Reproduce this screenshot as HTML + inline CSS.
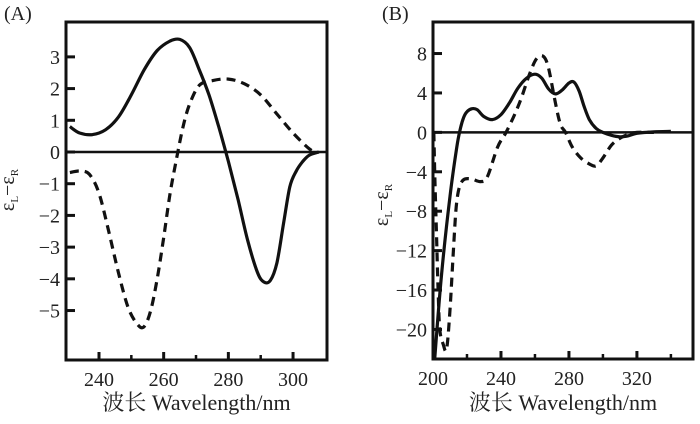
<!DOCTYPE html>
<html><head><meta charset="utf-8"><style>
body{margin:0;background:#fff}
svg text{font-family:"Liberation Serif","Noto Serif CJK SC",serif;fill:#222}
</style></head><body>
<svg id="c" width="700" height="419" xmlns="http://www.w3.org/2000/svg"></svg>
<script>
const aTicksX=[240,260,280,300];
const aMinorX=[250,270,290];
const aTicksY=[3,2,1,0,-1,-2,-3,-4,-5];
const aSolidX=[231,234,238,242,246,250,254,258,262,265,268,271,274,277,280,283,286,289,291,293,295,297,299,301,303,305,308];
const aSolidY=[0.8,0.6,0.55,0.7,1.1,1.8,2.6,3.2,3.5,3.55,3.3,2.6,1.8,0.8,-0.3,-1.5,-2.8,-3.8,-4.1,-4.05,-3.5,-2.3,-1.1,-0.6,-0.3,-0.1,0];
const aDashX=[231,234,237,240,243,246,249,252,254,256,258,260,262,264,266,268,271,275,280,285,290,295,300,305,307];
const aDashY=[-0.65,-0.6,-0.7,-1.3,-2.5,-3.8,-4.9,-5.45,-5.5,-5,-4,-2.7,-1.3,-0.2,0.8,1.5,2.1,2.25,2.3,2.15,1.8,1.2,0.6,0.1,0];
const bTicksX=[200,240,280,320];
const bMinorX=[220,260,300,340];
const bTicksY=[8,4,0,-4,-8,-12,-16,-20];
const bSolidX=[201,205,210,214,216,218,220,223,226,230,235,240,245,250,255,260,264,268,272,276,280,283,286,289,292,296,300,305,310,315,320,330,340];
const bSolidY=[-23,-14.5,-6.5,-1.5,0.3,1.5,2.1,2.4,2.3,1.6,1.3,1.8,3,4.5,5.5,5.9,5.5,4.4,3.9,4.3,5,5.1,4.2,2.6,1.3,0.4,0,-0.3,-0.45,-0.35,-0.1,0.05,0.1];
const bDashX=[200.5,201,202,203,204,206,208,210,212,214,217,222,228,232,238,243,248,252,257,261,265,268,272,275,278,282,287,292,296,300,305,310,315,320,330];
const bDashY=[0,-4,-10,-16,-20,-21.5,-22,-18,-12,-7,-5,-4.7,-5,-4.5,-1.5,0,1.8,3.5,6,7.5,7.7,6.5,3,0.8,0,-1.5,-2.6,-3.2,-3.4,-2.6,-1.3,-0.6,-0.2,0,0];

const svg=document.getElementById('c');
const NS='http://www.w3.org/2000/svg';
function mk(tag,attrs,txt){const e=document.createElementNS(NS,tag);for(const k in attrs)e.setAttribute(k,attrs[k]);if(txt!==undefined)e.textContent=txt;svg.appendChild(e);return e;}

function smooth(P){
  let d='M'+P[0][0].toFixed(1)+','+P[0][1].toFixed(1);
  for(let i=0;i<P.length-1;i++){
    const p0=P[Math.max(0,i-1)],p1=P[i],p2=P[i+1],p3=P[Math.min(P.length-1,i+2)];
    const c1=[p1[0]+(p2[0]-p0[0])/6,p1[1]+(p2[1]-p0[1])/6];
    const c2=[p2[0]-(p3[0]-p1[0])/6,p2[1]-(p3[1]-p1[1])/6];
    d+=' C'+c1.map(v=>v.toFixed(1)).join(',')+' '+c2.map(v=>v.toFixed(1)).join(',')+' '+p2.map(v=>v.toFixed(1)).join(',');
  }
  return d;
}

function panel(p){
  const sx=v=>p.x0+(v-p.xmin)/(p.xmax-p.xmin)*(p.x1-p.x0);
  const sy=v=>p.y0+(p.ymax-v)/(p.ymax-p.ymin)*(p.y1-p.y0);
  let e=mk('rect',{x:p.x0,y:p.y0,width:p.x1-p.x0,height:p.y1-p.y0,fill:'none',stroke:'#111','stroke-width':3});
  
  
  e=mk('line',{x1:p.x0,x2:p.x1,y1:sy(0),y2:sy(0),stroke:'#111','stroke-width':2.5});
  
  
  p.tx.forEach(v=>{
    e=mk('line',{x1:sx(v),x2:sx(v),y1:p.y1,y2:p.y1-8,stroke:'#111','stroke-width':3});
    
    
    e=mk('text',{x:sx(v),y:p.y1+26,'text-anchor':'middle','font-size':20},v);
    
    
  });
  p.mx.forEach(v=>{
    e=mk('line',{x1:sx(v),x2:sx(v),y1:p.y1,y2:p.y1-5,stroke:'#111','stroke-width':2.5});
    
    
  });
  p.ty.forEach(v=>{
    e=mk('line',{x1:p.x0,x2:p.x0+9,y1:sy(v),y2:sy(v),stroke:'#111','stroke-width':3});
    
    
    e=mk('text',{x:p.x0-6,y:sy(v)+7,'text-anchor':'end','font-size':20},(v<0?'\u2212'+(-v):v));
    
    
  });
  function line(xs,ys,dash,name){
    const P=xs.map((x,i)=>[sx(x),sy(ys[i])]);
    const a={d:smooth(P),fill:'none',stroke:'#111','stroke-width':3.2,'stroke-linejoin':'round'};
    if(dash)a['stroke-dasharray']='9,6';
    const l=mk('path',a);
    
    
  }
  line(p.sX,p.sY,false,p.id+'-solid-series');
  line(p.dX,p.dY,true,p.id+'-dashed-series');
  e=mk('text',{x:p.lx,y:20,'font-size':20},p.label);
  
  
  e=mk('text',{x:(p.x0+p.x1)/2,y:410,'text-anchor':'middle','font-size':22},'波长 Wavelength/nm');
  
  
  e=mk('text',{x:0,y:0,'text-anchor':'middle','font-size':20,transform:'translate('+p.yx+','+p.yy+') rotate(-90)'});
  
  
  e.innerHTML='ε<tspan font-size="11" dy="4">L</tspan><tspan dy="-4">−ε</tspan><tspan font-size="11" dy="4">R</tspan>';
}
panel({id:'panel-a',x0:66,x1:327,y0:22,y1:360,xmin:229.8,xmax:310.5,ymin:-6.56,ymax:4.1,tx:aTicksX,mx:aMinorX,ty:aTicksY,sX:aSolidX,sY:aSolidY,dX:aDashX,dY:aDashY,label:'(A)',lx:4,yx:14,yy:190});
panel({id:'panel-b',x0:433,x1:693,y0:22,y1:359,xmin:200,xmax:353,ymin:-23,ymax:11.2,tx:bTicksX,mx:bMinorX,ty:bTicksY,sX:bSolidX,sY:bSolidY,dX:bDashX,dY:bDashY,label:'(B)',lx:382,yx:388,yy:205});
</script>
</body></html>
